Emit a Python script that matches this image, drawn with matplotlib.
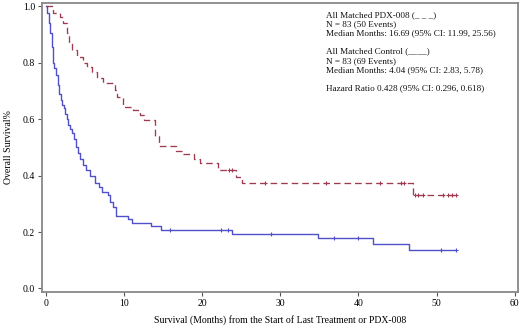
import numpy as np
import matplotlib
matplotlib.use('Agg')
import matplotlib.pyplot as plt

# Kaplan-Meier steps (time in months, survival after the drop)
ctrl_t = [0, 0.2, 0.4, 0.55, 0.75, 0.95, 1.1, 1.3, 1.5, 1.7, 1.9, 2.1, 2.3, 2.5, 2.7, 2.9,
          3.1, 3.3, 3.6, 3.9, 4.1, 4.4, 4.8, 5.2, 5.7, 6.3, 6.8, 7.2, 7.9, 8.2, 8.6, 9.0,
          10.5, 11.0, 13.5, 14.8, 23.8, 34.8, 41.9, 46.5]
ctrl_s = [1.0, 0.976, 0.94, 0.905, 0.855, 0.80, 0.78, 0.756, 0.72, 0.69, 0.668, 0.65, 0.64,
          0.62, 0.60, 0.58, 0.565, 0.55, 0.53, 0.50, 0.48, 0.46, 0.437, 0.42, 0.40, 0.373,
          0.36, 0.342, 0.33, 0.307, 0.29, 0.256, 0.245, 0.233, 0.22, 0.207, 0.193, 0.178,
          0.157, 0.137]
ctrl_end = 52.5
ctrl_censor = [15.9, 22.4, 23.3, 28.8, 36.9, 39.9, 50.6, 52.5]

pdx_t = [0, 0.9, 1.8, 2.2, 2.7, 3.0, 3.4, 4.0, 4.8, 5.3, 5.9, 6.5, 7.3, 8.9, 9.1, 9.9,
         11.2, 12.1, 12.6, 14.0, 14.5, 16.7, 17.6, 18.9, 19.7, 22.0, 24.3, 25.1, 47.0]
pdx_s = [1.0, 0.976, 0.964, 0.94, 0.905, 0.87, 0.845, 0.82, 0.80, 0.785, 0.767, 0.745,
         0.727, 0.703, 0.68, 0.643, 0.632, 0.614, 0.597, 0.54, 0.506, 0.488, 0.476, 0.46,
         0.444, 0.42, 0.396, 0.374, 0.333]
pdx_end = 52.5
pdx_censor = [23.4, 23.8, 28.0, 35.9, 42.7, 45.5, 45.8, 47.2, 47.6, 48.2, 50.8, 51.4,
              52.0, 52.5]

x_ticks = [0, 10, 20, 30, 40, 50, 60]
y_ticks = [0.0, 0.2, 0.4, 0.6, 0.8, 1.0]

legend_lines = [
    'All Matched PDX-008 (_ _ _)',
    'N = 83 (50 Events)',
    'Median Months: 16.69 (95% CI: 11.99, 25.56)',
    '',
    'All Matched Control (____)',
    'N = 83 (69 Events)',
    'Median Months: 4.04 (95% CI: 2.83, 5.78)',
    '',
    'Hazard Ratio 0.428 (95% CI: 0.296, 0.618)',
]

BLUE = '#5050C8'
RED = '#A03A50'

plt.rcParams['font.family'] = ['Liberation Serif', 'DejaVu Serif']


def survival_at(times, surv, t):
    i = np.searchsorted(times, t, side='right') - 1
    return np.asarray(surv)[i]


fig = plt.figure(figsize=(5.2, 3.29), dpi=100)
ax = fig.add_axes([0.081, 0.112, 0.915, 0.879])

# control curve
ax.step(ctrl_t + [ctrl_end], ctrl_s + [ctrl_s[-1]], where='post', color=BLUE, lw=1.0)
ax.plot(ctrl_censor, survival_at(ctrl_t, ctrl_s, ctrl_censor), '+', color=BLUE,
        ms=3.5, mew=0.8)

# pdx-008 curve
ax.step(pdx_t + [pdx_end], pdx_s + [pdx_s[-1]], where='post', color=RED, lw=0.95,
        dashes=(5, 3))
ax.plot(pdx_censor, survival_at(pdx_t, pdx_s, pdx_censor), '+', color=RED,
        ms=3.5, mew=0.8)

ax.set_xlim(-0.47, 60.4)
ax.set_ylim(-0.013, 1.012)
ax.set_xticks(x_ticks)
ax.set_yticks(y_ticks)
ax.set_yticklabels(['%.1f' % v for v in y_ticks])
ax.tick_params(direction='out', length=3, width=0.8, labelsize=7, color='#555555',
               pad=2)

for s in ax.spines.values():
    s.set_color('#888888')
    s.set_linewidth(1.3)

ax.set_xlabel('Survival (Months) from the Start of Last Treatment or PDX-008', fontsize=7,
              labelpad=5)
ax.set_ylabel('Overall Survival%', fontsize=7, labelpad=7)

y0 = 0.958
for i, line in enumerate(legend_lines):
    ax.text(0.596, y0 - i * 0.0316, line, transform=ax.transAxes, fontsize=6.6,
            va='center', ha='left', color='#111111')

fig.savefig('out.png', dpi=100)
